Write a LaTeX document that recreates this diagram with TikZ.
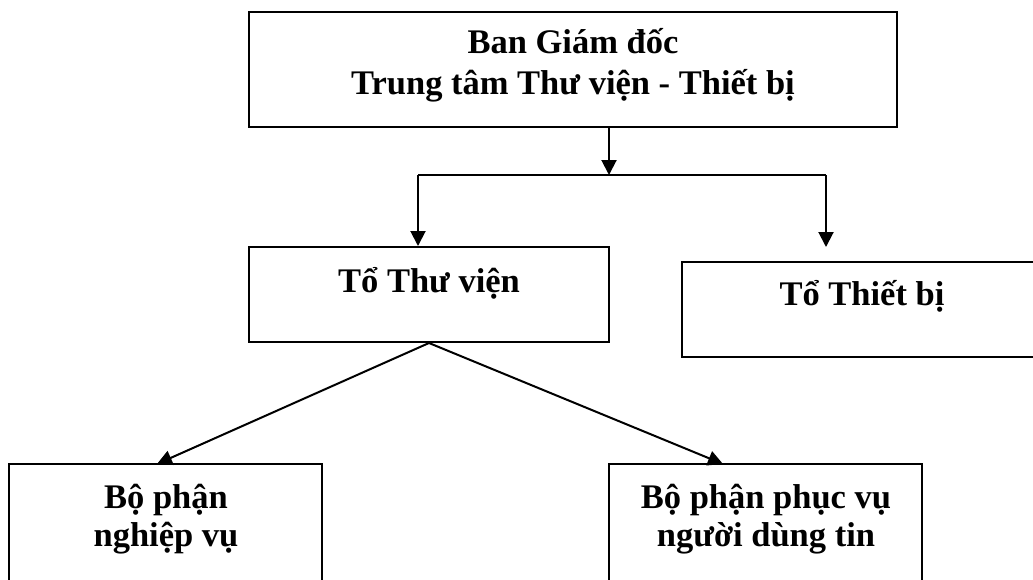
\documentclass[tikz,border=0pt]{standalone}
\usepackage{fontspec}
\setmainfont{Liberation Serif}
\usetikzlibrary{arrows.meta}
\begin{document}
\begin{tikzpicture}[x=1pt,y=-1pt,
  box/.style={draw=black,line width=2pt,rectangle,inner sep=0pt},
  lbl/.style={font=\fontsize{34.5}{41}\selectfont\bfseries,align=center,inner sep=0pt,anchor=base},
  lblb/.style={lbl,font=\fontsize{34.5}{38}\selectfont\bfseries},
  conn/.style={line width=2pt},
  arr/.style={line width=2pt,-{Triangle[width=15pt,length=15pt]}}]
\clip (0,0) rectangle (1033,579);
\fill[white] (0,0) rectangle (1033,579);
% boxes
\node[box,minimum width=648pt,minimum height=115pt] (bgd) at (573,69.5) {};
\node[lbl] (bgdt) at (573,94) {Ban Giám đốc\\Trung tâm Thư viện - Thiết bị};
\node[box,minimum width=360pt,minimum height=95pt] (ttv) at (429,294.5) {};
\node[lbl] (ttvt) at (429,292) {Tổ Thư viện};
\node[box,minimum width=358pt,minimum height=95pt] (ttb) at (861,309.5) {};
\node[lbl] (ttbt) at (862,305) {Tổ Thiết bị};
\node[box,minimum width=313pt,minimum height=150pt] (bpnv) at (165.5,539) {};
\node[lblb] (bpnvt) at (166,546) {Bộ phận\\nghiệp vụ};
\node[box,minimum width=313pt,minimum height=150pt] (bppv) at (765.5,539) {};
\node[lblb] (bppvt) at (766,546) {Bộ phận phục vụ\\người dùng tin};
% connectors
\coordinate (j) at (609,175);
\coordinate (jl) at (418,175);
\coordinate (jr) at (826,175);
\coordinate (jrend) at (826,247);
\coordinate (nvend) at (157,464);
\coordinate (pvend) at (723,464);
\draw[arr] (bgd.south -| j) -- (j);
\draw[conn] (jl) -- (jr);
\draw[arr] (jl) -- (jl |- ttv.north);
\draw[arr] (jr) -- (jrend);
\draw[arr] (ttv.south) -- (nvend);
\draw[arr] (ttv.south) -- (pvend);
\end{tikzpicture}
\end{document}
